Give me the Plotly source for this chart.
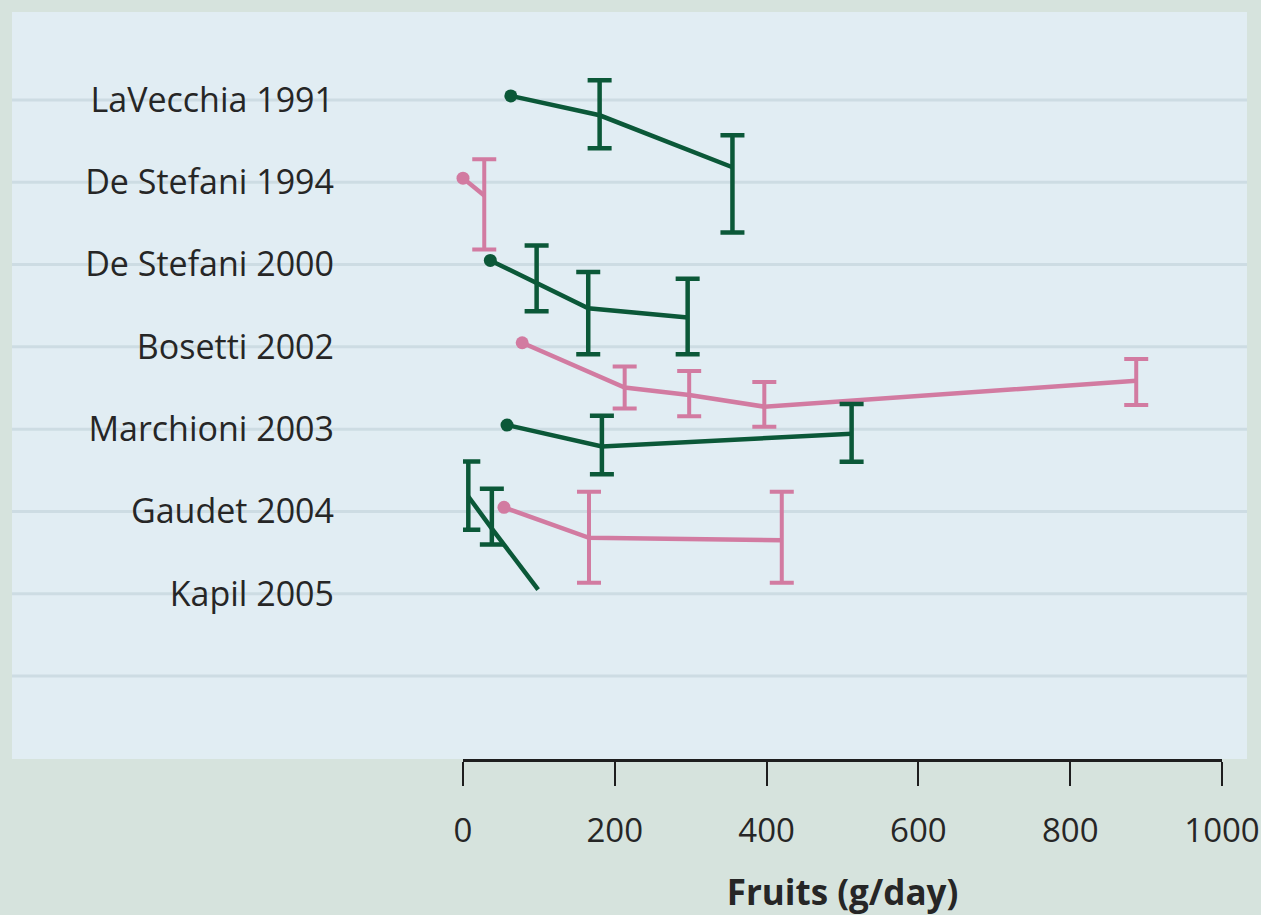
import math
import plotly.graph_objects as go

# ---------------- data ----------------
studies = ["LaVecchia 1991", "De Stefani 1994", "De Stefani 2000", "Bosetti 2002",
           "Marchioni 2003", "Gaudet 2004", "Kapil 2005"]

intake = [
    [63, 180, 355],
    [0, 28],
    [36, 97, 165, 296],
    [78, 213, 298, 397, 887],
    [58, 183, 512],
    [54, 166, 420],
    [7, 38, 99],
]
rel_risk = [
    [1.0, 0.79, 0.42],
    [1.0, 0.81],
    [1.0, 0.76, 0.56, 0.50],
    [1.0, 0.58, 0.53, 0.46, 0.63],
    [1.0, 0.77, 0.90],
    [1.0, 0.69, 0.67],
    [3.10, 2.10, 1.0],
]
ci_low = [
    [None, 0.53, 0.19],
    [None, 0.42],
    [None, 0.54, 0.32, 0.32],
    [None, 0.45, 0.41, 0.36, 0.47],
    [None, 0.55, 0.64],
    [None, 0.40, 0.40],
    [2.07, 1.73, None],
]
ci_high = [
    [None, 1.21, 0.62],
    [None, 1.26],
    [None, 1.20, 0.87, 0.80],
    [None, 0.75, 0.71, 0.62, 0.82],
    [None, 1.12, 1.29],
    [None, 1.21, 1.21],
    [4.74, 3.41, None],
]
show_ref_dot = [True, True, True, True, True, True, False]

x_ticks = [0, 200, 400, 600, 800, 1000]
x_title = "Fruits (g/day)"

# ---------------- style ----------------
GREEN = "#0b5838"
PINK = "#d27ba1"
colors = [GREEN, PINK, GREEN, PINK, GREEN, PINK, GREEN]
OUTER_BG = "#d6e3dd"
PANEL_BG = "#e1edf3"
GRID = "#cddce3"
TXT = "#262626"
AXIS = "#1e1e1e"
FONT = "Open Sans"

BASE_OFF = -0.05        # reference point sits slightly above the row line
n_rows = len(studies) + 1  # one extra empty row line at the bottom
row_vals = list(range(n_rows))


def pos(row, r):
    return row + BASE_OFF - math.log(r)


fig = go.Figure()

for i, name in enumerate(studies):
    col = colors[i]
    xs = intake[i]
    ys = [pos(i, r) for r in rel_risk[i]]
    sizes = [13 if (ci_low[i][k] is None and show_ref_dot[i]) else 0 for k in range(len(xs))]
    fig.add_trace(go.Scatter(
        x=xs, y=ys, mode="lines+markers",
        line=dict(color=col, width=4.5),
        marker=dict(size=sizes, color=col, opacity=1, line=dict(width=0)),
        cliponaxis=False, showlegend=False, hoverinfo="skip", name=name))
    ex, ey, eplus, eminus = [], [], [], []
    for k in range(len(xs)):
        if ci_low[i][k] is None:
            continue
        y0 = pos(i, rel_risk[i][k])
        ex.append(xs[k])
        ey.append(y0)
        eplus.append(pos(i, ci_low[i][k]) - y0)
        eminus.append(y0 - pos(i, ci_high[i][k]))
    fig.add_trace(go.Scatter(
        x=ex, y=ey, mode="markers",
        marker=dict(size=1, color="rgba(0,0,0,0)"),
        error_y=dict(type="data", symmetric=False, array=eplus, arrayminus=eminus,
                     color=col, thickness=4.5 if col == GREEN else 4, width=12),
        cliponaxis=False, showlegend=False, hoverinfo="skip", name=name))

# panel and row lines
shapes = [dict(type="rect", xref="paper", yref="paper", x0=0, x1=1, y0=0, y1=1,
               fillcolor=PANEL_BG, line=dict(width=0), layer="below")]
for r in row_vals:
    shapes.append(dict(type="line", xref="paper", yref="y", x0=0, x1=1, y0=r, y1=r,
                       line=dict(color=GRID, width=3), layer="below"))

W, H = 1261, 915
ML, MR, MT, MB = 12, 14, 12, 156
PW = W - ML - MR
ROW_PX = 82.29
ROW0_PX = 100
y_top = (MT - ROW0_PX) / ROW_PX
y_bot = (H - MB - ROW0_PX) / ROW_PX

fig.update_layout(
    width=W, height=H,
    margin=dict(l=ML, r=MR, t=MT, b=MB, pad=0, autoexpand=False),
    paper_bgcolor=OUTER_BG,
    plot_bgcolor="rgba(0,0,0,0)",
    shapes=shapes,
    font=dict(family=FONT, color=TXT),
    xaxis=dict(
        domain=[(463 - ML) / PW, (1222 - ML) / PW],
        range=[0, 1000], tickvals=x_ticks, automargin=False,
        showline=True, linecolor=AXIS, linewidth=3,
        ticks="outside", ticklen=24, tickwidth=2, tickcolor=AXIS,
        showgrid=False, zeroline=False,
        tickfont=dict(size=33, color=TXT, family=FONT),
        ticklabelstandoff=16,
        title=dict(text="<b>" + x_title + "</b>", font=dict(size=35, color=TXT, family=FONT),
                   standoff=32),
    ),
    yaxis=dict(
        domain=[0, 1], range=[y_bot, y_top], automargin=False,
        anchor="free", position=(334 - ML) / PW,
        tickvals=row_vals, ticktext=studies + [""],
        ticks="", showline=False, showgrid=False, zeroline=False,
        tickfont=dict(size=34, color=TXT, family=FONT),
    ),
)

fig.write_html("out.html")
